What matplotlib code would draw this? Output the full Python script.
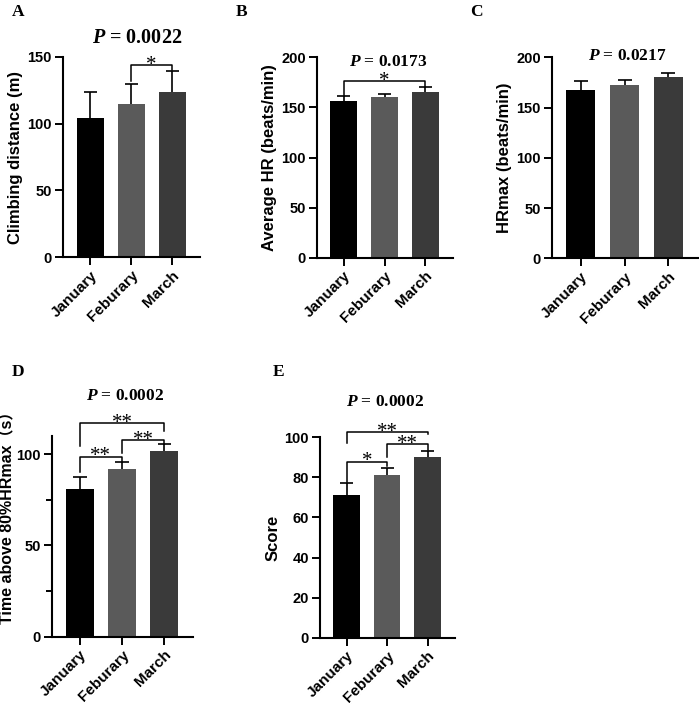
import matplotlib.pyplot as plt
import numpy as np

plt.rcParams["font.family"] = ["Liberation Sans", "Noto Sans CJK SC", "DejaVu Sans"]
plt.rcParams["mathtext.fontset"] = "custom"
plt.rcParams["mathtext.bfit"] = "Liberation Serif:italic:bold"
plt.rcParams["mathtext.rm"] = "Liberation Serif:bold"

months = ["January", "Feburary", "March"]
bar_colors = ["#000000", "#5a5a5a", "#3a3a3a"]

climb_mean = [104, 115, 124]
climb_err = [19.5, 14.5, 15.5]

hr_avg_mean = [156, 160, 165.4]
hr_avg_err = [5, 3.7, 5]

hr_max_mean = [167.6, 172, 180.3]
hr_max_err = [9, 5.6, 4.3]

time80_mean = [80.8, 92.1, 102]
time80_err = [6.8, 3.9, 3.5]

score_mean = [71.4, 81.2, 90]
score_err = [5.8, 3.5, 3.2]

W, H = 699, 708


def px_box(left, top, right, bottom):
    return [left / W, 1 - bottom / H, (right - left) / W, (bottom - top) / H]


def draw_panel(box, means, errs, ylabel, ylim, yticks, minor, pval, psize,
               p_xy, letter, letter_xy, brackets):
    ax = fig.add_axes(px_box(*box))
    x = np.arange(len(months))
    means = np.asarray(means)
    tops = means + np.asarray(errs)
    ax.bar(x, means, width=0.66, color=bar_colors, zorder=2)
    # upper error bars only
    ax.vlines(x, means, tops, color="black", lw=1.2, zorder=1)
    ax.hlines(tops, x - 0.16, x + 0.16, color="black", lw=1.2, zorder=1)
    ax.set_xlim(-0.66, 2.68)
    ax.set_ylim(*ylim)
    ax.set_yticks(yticks)
    if minor:
        ax.set_yticks(minor, minor=True)
    ax.set_xticks(x)
    ax.set_xticklabels(months, rotation=45, ha="right", rotation_mode="anchor",
                       fontsize=11, fontweight="bold")
    for lab in ax.get_yticklabels():
        lab.set_fontweight("bold")
        lab.set_fontsize(10.5)
    ax.set_ylabel(ylabel, fontsize=12, fontweight="bold", labelpad=3)
    for side in ["top", "right"]:
        ax.spines[side].set_visible(False)
    for side in ["left", "bottom"]:
        ax.spines[side].set_linewidth(1.5)
    ax.tick_params(axis="both", which="major", length=6, width=1.4, pad=2)
    ax.tick_params(axis="y", which="minor", length=4, width=1.4)

    for i, j, yb, yl, yr, label in brackets:
        ax.plot([i, i, j, j], [yl, yb, yb, yr], color="black", lw=1.1,
                clip_on=False, zorder=4)
        ax.annotate(label, ((i + j) / 2, yb), xytext=(0, -3.5),
                    textcoords="offset points", ha="center", va="baseline",
                    fontsize=15, family="Liberation Serif",
                    annotation_clip=False)

    fig.text(p_xy[0] / W, 1 - p_xy[1] / H, r"$\mathbfit{P}$ = " + pval,
             ha="center", va="center", fontsize=psize,
             family="Liberation Serif", fontweight="bold")
    fig.text(letter_xy[0] / W, 1 - letter_xy[1] / H, letter, ha="left",
             va="center", fontsize=12.5, family="Liberation Serif",
             fontweight="bold")
    return ax


fig = plt.figure(figsize=(W / 100, H / 100), dpi=100)

draw_panel((63, 57, 200, 257), climb_mean, climb_err, "Climbing distance (m)",
           (0, 150), [0, 50, 100, 150], None, "0.0022", 14.5, (137, 38),
           "A", (12, 12), [(1, 2, 144, 132, 140, "*")])

draw_panel((317, 57.3, 453, 257.7), hr_avg_mean, hr_avg_err,
           "Average HR (beats/min)", (0, 200), [0, 50, 100, 150, 200], None,
           "0.0173", 12.5, (388, 62), "B", (236, 12),
           [(0, 2, 176.7, 161, 170.4, "*")])

draw_panel((552, 57.3, 698, 258.3), hr_max_mean, hr_max_err,
           "HRmax (beats/min)", (0, 200), [0, 50, 100, 150, 200], None,
           "0.0217", 12.5, (627, 56), "C", (470, 12), [])

ax_d = draw_panel((52, 436, 193, 636.7), time80_mean, time80_err,
                  "Time above 80%HRmax\uff08s\uff09", (0, 110), [0, 50, 100],
                  [25, 75], "0.0002", 12.5, (125, 396), "D", (12, 372),
                  [(0, 1, 98.7, 90, 96, "**"),
                   (1, 2, 107.9, 100.8, 105.7, "**"),
                   (0, 2, 117, 104.5, 112.5, "**")])
ax_d.yaxis.label.set_fontsize(11.5)
ax_d.yaxis.set_label_coords(-0.26, 0.61)

draw_panel((320, 437.3, 455, 637.7), score_mean, score_err, "Score",
           (0, 100), [0, 20, 40, 60, 80, 100], None, "0.0002", 12.5,
           (385, 402), "E", (273, 372),
           [(0, 1, 87.9, 77.9, 85.7, "*"), (1, 2, 96.5, 90.4, 93.7, "**"),
            (0, 2, 102.8, 97, 101.7, "**")])

fig.savefig("out.png", dpi=100)
